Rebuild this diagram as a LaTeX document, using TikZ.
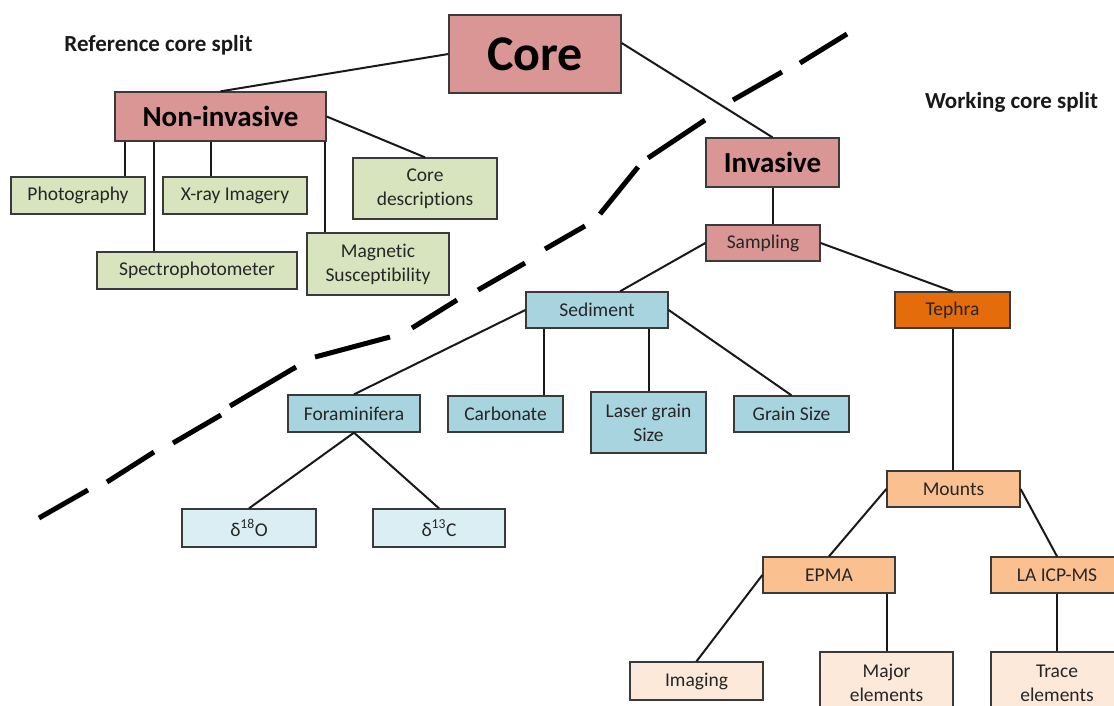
\documentclass[tikz,border=0pt]{standalone}
\usepackage{fontspec}
\setmainfont{Carlito}[Ligatures=NoCommon]
\definecolor{pinkf}{HTML}{D99694}
\definecolor{greenf}{HTML}{D7E4BD}
\definecolor{bluef}{HTML}{A8D4E0}
\definecolor{lbluef}{HTML}{DBEEF4}
\definecolor{tephf}{HTML}{E46C0A}
\definecolor{orangef}{HTML}{FAC090}
\definecolor{peachf}{HTML}{FDE9D9}
\definecolor{edge}{HTML}{3A3A3A}
\newcommand\mybox[7]{\node[#6, minimum width={#4-#2}, minimum height={#5-#3}] (#1) at ({(#2+#4)/2},{(#3+#5)/2}) {#7};}
\tikzset{
  box/.style={rectangle, draw=edge, line width=1.3pt, inner sep=0pt, align=center,
    text=black!85, font=\fontsize{19.5}{24}\selectfont},
  pinkbox/.style={box, fill=pinkf},
  greenbox/.style={box, fill=greenf},
  bluebox/.style={box, fill=bluef},
  lbluebox/.style={box, fill=lbluef},
  tephbox/.style={box, fill=tephf},
  orangebox/.style={box, fill=orangef},
  peachbox/.style={box, fill=peachf},
  link/.style={line width=2pt, draw=black!90},
  divider/.style={line width=5pt, draw=black, line cap=butt},
  caption/.style={font=\fontsize{23}{28}\selectfont\bfseries, text=black!90, inner sep=0pt}
}
\begin{document}
\begin{tikzpicture}[x=1pt,y=-1pt]
\useasboundingbox (0,0) rectangle (1114,705);
% dividing line
\draw[divider] (39,518) -- (88,490);
\draw[divider] (107,482) -- (154,452);
\draw[divider] (173,443) -- (221,415);
\draw[divider] (230,406) -- (296,367);
\draw[divider] (315,357) -- (390,337);
\draw[divider] (412,328) -- (457,300);
\draw[divider] (478,290) -- (525,263);
\draw[divider] (545,249) -- (585,226);
\draw[divider] (600,214) -- (638,167);
\draw[divider] (648,158) -- (705,120);
\draw[divider] (733,100) -- (782,72);
\draw[divider] (800,63) -- (847,34);
% captions
\node[caption] (refcap) at (158.5,45) {Reference core split};
\node[caption] (workcap) at (1011.5,102) {Working core split};
% boxes
\mybox{core}{449}{15}{621}{93}{pinkbox,font=\fontsize{50}{56}\selectfont\bfseries,text=black}{Core}
\mybox{noninv}{115}{92}{326}{141}{pinkbox,font=\fontsize{29}{34}\selectfont\bfseries,text=black}{Non-invasive}
\mybox{photo}{11}{177}{145}{214}{greenbox}{Photography}
\mybox{xray}{163}{177}{307}{214}{greenbox}{X-ray Imagery}
\mybox{coredesc}{353}{158}{497}{219}{greenbox}{Core\\descriptions}
\mybox{spectro}{97}{252}{297}{289}{greenbox}{Spectrophotometer}
\mybox{magnetic}{307}{233}{449}{295}{greenbox}{Magnetic\\Susceptibility}
\mybox{invasive}{706}{138}{839}{187}{pinkbox,font=\fontsize{29}{34}\selectfont\bfseries,text=black}{Invasive}
\mybox{sampling}{706}{225}{820}{261}{pinkbox}{Sampling}
\mybox{sediment}{526}{292}{668}{328}{bluebox}{Sediment}
\mybox{tephra}{895}{292}{1010}{328}{tephbox}{Tephra}
\mybox{foram}{288}{395}{420}{432}{bluebox}{Foraminifera}
\mybox{carbonate}{448}{396}{563}{432}{bluebox}{Carbonate}
\mybox{laser}{591}{392}{706}{453}{bluebox}{Laser grain\\Size}
\mybox{grain}{734}{396}{849}{432}{bluebox}{Grain Size}
\mybox{dO}{182}{509}{316}{547}{lbluebox}{δ\textsuperscript{18}O}
\mybox{dC}{373}{509}{505}{547}{lbluebox}{δ\textsuperscript{13}C}
\mybox{mounts}{887}{471}{1020}{507}{orangebox}{Mounts}
\mybox{epma}{763}{557}{895}{593}{orangebox}{EPMA}
\mybox{laicp}{991}{557}{1123}{593}{orangebox}{LA ICP-MS}
\mybox{imaging}{630}{662}{763}{700}{peachbox}{Imaging}
\mybox{major}{820}{652}{953}{714}{peachbox}{Major\\elements}
\mybox{trace}{991}{652}{1123}{714}{peachbox}{Trace\\elements}
% connectors
\draw[link] (core.west) -- (noninv.north);
\draw[link] ([yshift=11pt]core.east) -- (invasive.north);
\draw[link] (noninv.east) -- (coredesc.north);
\path ([xshift=47pt]photo.north) coordinate (p1);
\draw[link] (p1) -- (p1 |- noninv.south);
\path ([xshift=-43pt]spectro.north) coordinate (p2);
\draw[link] (p2) -- (p2 |- noninv.south);
\path ([xshift=-24pt]xray.north) coordinate (p3);
\draw[link] (p3) -- (p3 |- noninv.south);
\path ([xshift=-53pt]magnetic.north) coordinate (p4);
\draw[link] (p4) -- (p4 |- noninv.south);
\draw[link] (invasive.south) -- (invasive.south |- sampling.north);
\draw[link] (sampling.west) -- ([xshift=23pt]sediment.north);
\draw[link] (sampling.east) -- (tephra.north);
\draw[link] (sediment.west) -- (foram.north);
\path ([xshift=38.5pt]carbonate.north) coordinate (p5);
\draw[link] (p5) -- (p5 |- sediment.south);
\draw[link] (laser.north) -- (laser.north |- sediment.south);
\draw[link] (sediment.east) -- (grain.north);
\draw[link] (foram.south) -- (dO.north);
\draw[link] (foram.south) -- (dC.north);
\draw[link] (tephra.south) -- (tephra.south |- mounts.north);
\draw[link] (mounts.west) -- (epma.north);
\draw[link] (mounts.east) -- (laicp.north);
\draw[link] (epma.west) -- (imaging.north);
\draw[link] (major.north) -- (major.north |- epma.south);
\draw[link] (laicp.south) -- (trace.north);
\end{tikzpicture}
\end{document}
